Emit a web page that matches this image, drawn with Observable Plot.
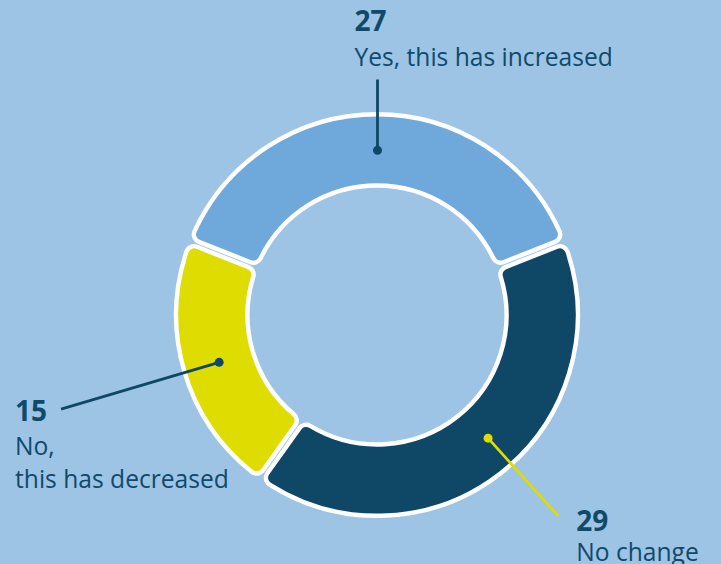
<!DOCTYPE html>
<html><head><meta charset="utf-8">
<script src="https://cdn.jsdelivr.net/npm/d3@7"></script>
<script src="https://cdn.jsdelivr.net/npm/@observablehq/plot@0.6"></script>
<style>
html,body{margin:0;padding:0;background:#9dc4e5;}
#chart{width:721px;height:564px;}
</style></head><body><div id="chart"></div>
<script>
// ---- data ----
const categories = ["Yes, this has increased", "No change", "No, this has decreased"];
const values = [27, 29, 15];
const labelLines = [["Yes, this has increased"], ["No change"], ["No,", "this has decreased"]];

// ---- styles & layout ----
const W = 721, H = 564, CX = 377, CY = 315;
const R_IN = 129.5, R_OUT = 200.8;
const fills = {"Yes, this has increased": "#6fa8da", "No change": "#0f4766", "No, this has decreased": "#dedc00"};
const dotColors = {"Yes, this has increased": "#0f4766", "No change": "#dedc00", "No, this has decreased": "#0f4766"};
const textColor = "#0f4a6b";
// leader line layout per category: end radius, angle nudge (deg), label offsets (px)
const leaderLayout = {
  "Yes, this has increased": {len: 236, nudge: 0, dx: -23, numDy: -49, txtDy: -14},
  "No change": {len: 270, nudge: -4, dx: 18, numDy: 15, txtDy: 45},
  "No, this has decreased": {len: 330, nudge: 0, dx: -46, numDy: 12, txtDy: 46}
};
const lineHeight = 33;

const data = categories.map((c, i) => ({category: c, value: values[i], lines: labelLines[i]}));
const total = d3.sum(values);
const start = -Math.PI * values[0] / total;
const slices = d3.pie().sort(null).value(d => d.value).startAngle(start).endAngle(start + 2 * Math.PI)(data);

const polar = (r, a) => ({x: r * Math.sin(a), y: r * Math.cos(a)});
const rMid = (R_IN + R_OUT) / 2;

const leaders = slices.map(s => {
  const L = leaderLayout[s.data.category];
  const a = (s.startAngle + s.endAngle) / 2 + L.nudge * Math.PI / 180;
  const p0 = polar(rMid, a);
  const p1 = polar(L.len, a);
  return {category: s.data.category, x1: p0.x, y1: p0.y, x2: p1.x, y2: p1.y, color: dotColors[s.data.category]};
});

const texts = [];
slices.forEach((s, i) => {
  const L = leaderLayout[s.data.category];
  const e = leaders[i];
  texts.push({x: e.x2 + L.dx, y: e.y2 - L.numDy, text: String(s.data.value), bold: true});
  s.data.lines.forEach((t, j) => texts.push({x: e.x2 + L.dx, y: e.y2 - (L.txtDy + j * lineHeight), text: t, bold: false}));
});

function arcMark(index, scales) {
  const {x, y} = scales;
  const k = x(1) - x(0);
  const arc = d3.arc().innerRadius(R_IN * k).outerRadius(R_OUT * k).cornerRadius(8).padAngle(0.022);
  const g = d3.create("svg:g").attr("transform", `translate(${x(0)},${y(0)})`);
  g.selectAll("path").data(slices).join("path")
    .attr("d", arc)
    .attr("fill", d => fills[d.data.category])
    .attr("stroke", "white")
    .attr("stroke-width", 4.4)
    .attr("stroke-linejoin", "round");
  return g.node();
}

const chart = Plot.plot({
  width: W, height: H,
  margin: 0,
  style: {background: "#9dc4e5", fontFamily: "'Open Sans', sans-serif"},
  x: {domain: [-CX, W - CX], range: [0, W], axis: null},
  y: {domain: [-(H - CY), CY], range: [H, 0], axis: null},
  color: {type: "identity"},
  marks: [
    arcMark,
    Plot.link(leaders, {x1: "x1", y1: "y1", x2: "x2", y2: "y2", stroke: "color", strokeWidth: 2.8}),
    Plot.dot(leaders, {x: "x1", y: "y1", r: 4.5, fill: "color"}),
    Plot.text(texts.filter(d => d.bold), {x: "x", y: "y", text: "text", textAnchor: "start", lineAnchor: "bottom", fill: textColor, fontSize: 28, fontWeight: "bold"}),
    Plot.text(texts.filter(d => !d.bold), {x: "x", y: "y", text: "text", textAnchor: "start", lineAnchor: "bottom", fill: textColor, fontSize: 24.6})
  ]
});
document.getElementById("chart").appendChild(chart);
</script></body></html>
